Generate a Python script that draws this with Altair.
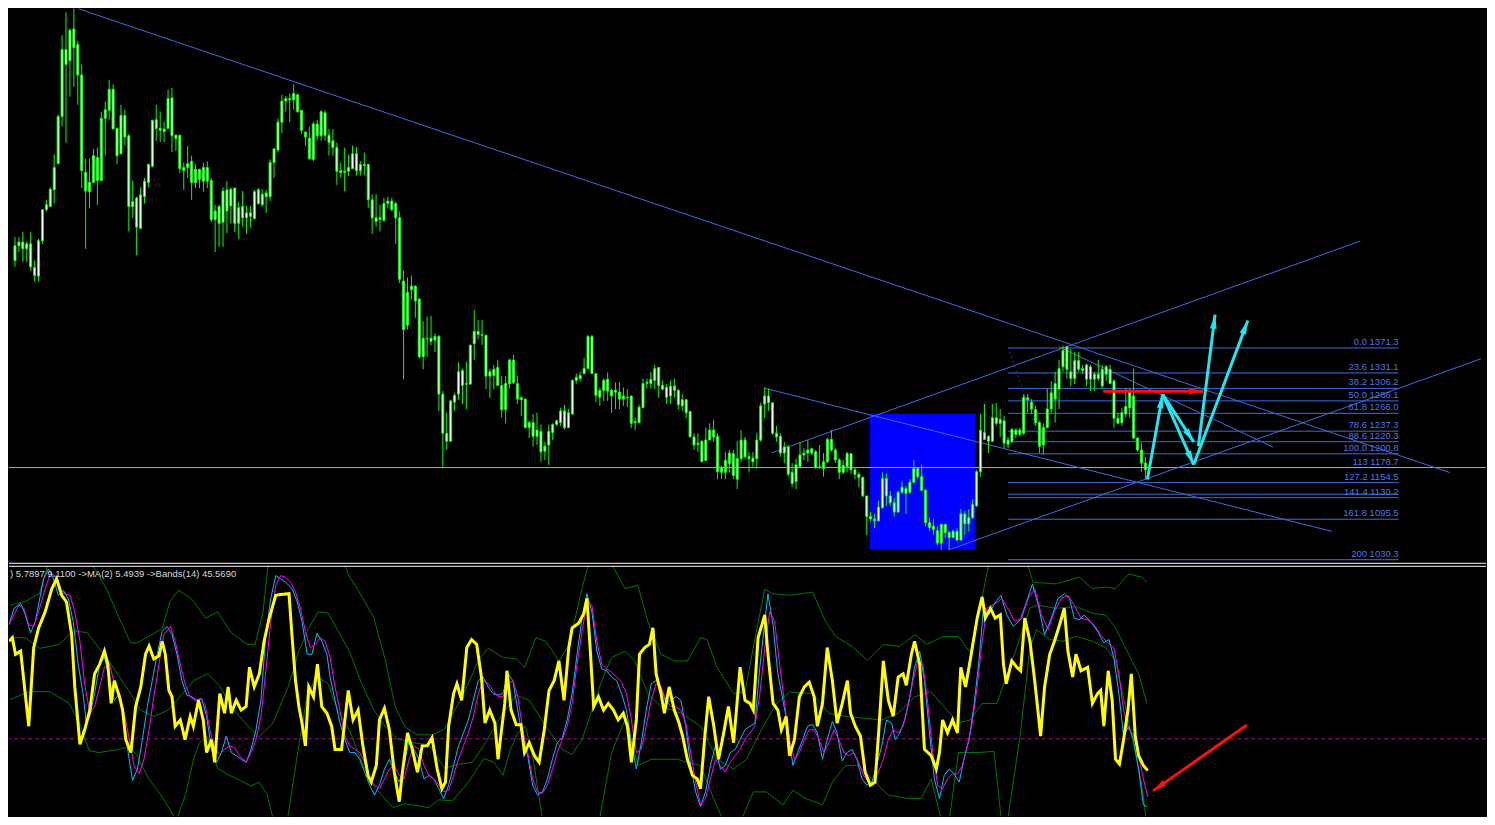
import math
import altair as alt
import pandas as pd

# ---------------- candle data (price) ----------------
body_top = [1536,1542,1542,1539,1539,1501,1544,1594,1602,1627,1662,1744,1852,1852,1883,1885,1860,1811,1654,1638,
1681,1678,1741,1755,1788,1788,1725,1746,1746,1713,1607,1613,1618,1640,1667,1738,1739,1725,1724,1773,
1774,1714,1714,1662,1668,1672,1659,1659,1662,1662,1641,1592,1599,1624,1626,1627,1629,1597,1599,1589,
1589,1623,1626,1619,1621,1670,1692,1735,1769,1773,1773,1781,1779,1754,1719,1709,1732,1732,1752,1750,
1714,1705,1694,1657,1656,1662,1684,1684,1667,1667,1667,1610,1581,1581,1604,1608,1608,1604,1581,1479,
1461,1471,1471,1450,1387,1387,1387,1390,1390,1297,1234,1286,1295,1333,1335,1314,1376,1398,1398,1393,
1392,1333,1337,1340,1311,1314,1352,1352,1314,1291,1289,1251,1251,1239,1237,1213,1237,1248,1254,1270,
1270,1267,1319,1324,1327,1338,1390,1390,1330,1303,1319,1321,1303,1303,1300,1294,1292,1294,1253,1276,
1314,1316,1321,1338,1340,1311,1308,1310,1310,1303,1288,1288,1269,1228,1218,1221,1223,1239,1239,1229,
1179,1190,1202,1201,1193,1223,1223,1196,1194,1223,1278,1294,1294,1283,1234,1229,1212,1212,1171,1183,
1199,1202,1207,1209,1204,1180,1188,1224,1224,1207,1191,1182,1201,1201,1175,1168,1163,1133,1100,1096,
1115,1161,1161,1133,1122,1139,1147,1145,1155,1177,1177,1164,1142,1090,1084,1077,1087,1087,1074,1076,
1076,1104,1104,1098,1119,1172,1239,1235,1229,1259,1259,1256,1254,1223,1240,1239,1239,1292,1291,1284,
1272,1251,1243,1273,1299,1314,1338,1367,1373,1333,1351,1351,1338,1344,1341,1329,1329,1337,1341,1337,
1318,1258,1267,1277,1303,1294,1226,1207,1186]
body_bot = [1512,1536,1531,1531,1502,1488,1487,1544,1594,1599,1626,1668,1744,1828,1834,1855,1811,1657,1624,1623,
1638,1641,1641,1741,1754,1724,1681,1684,1711,1599,1599,1566,1564,1615,1638,1664,1725,1722,1720,1725,
1713,1709,1660,1657,1662,1638,1638,1643,1640,1640,1578,1578,1572,1574,1592,1600,1572,1572,1581,1581,
1583,1580,1604,1602,1615,1615,1670,1690,1735,1769,1771,1771,1752,1722,1711,1676,1675,1713,1713,1714,
1702,1694,1656,1654,1654,1656,1660,1657,1657,1665,1610,1581,1575,1578,1577,1604,1594,1581,1482,1401,
1408,1465,1447,1357,1357,1386,1382,1384,1297,1234,1221,1221,1284,1297,1311,1313,1313,1378,1393,1392,
1326,1326,1327,1311,1272,1272,1314,1316,1289,1288,1243,1243,1229,1229,1204,1205,1215,1235,1248,1251,
1243,1243,1265,1319,1322,1330,1338,1330,1295,1292,1303,1302,1294,1300,1289,1289,1291,1250,1251,1251,
1275,1314,1314,1319,1311,1305,1292,1294,1303,1280,1278,1267,1228,1215,1216,1188,1190,1223,1228,1172,
1171,1171,1185,1166,1160,1193,1196,1193,1188,1193,1223,1281,1283,1234,1228,1202,1202,1168,1153,1156,
1180,1199,1202,1202,1179,1179,1177,1188,1207,1191,1171,1171,1180,1175,1168,1163,1133,1100,1096,1093,
1093,1114,1133,1122,1107,1107,1139,1137,1139,1155,1164,1142,1090,1082,1079,1057,1057,1074,1066,1066,
1062,1062,1088,1088,1098,1117,1172,1224,1221,1221,1250,1250,1218,1216,1221,1232,1232,1234,1288,1273,
1251,1213,1215,1243,1273,1289,1305,1341,1337,1322,1322,1337,1335,1321,1321,1321,1322,1310,1329,1314,
1258,1250,1251,1265,1275,1226,1207,1186,1175]
wick_hi = [1550,1550,1558,1542,1558,1512,1547,1594,1610,1630,1683,1747,1875,1912,1886,1918,1866,1828,1676,1676,
1692,1694,1752,1768,1803,1796,1727,1763,1755,1716,1641,1615,1630,1645,1668,1739,1763,1752,1736,1787,
1790,1716,1714,1670,1697,1681,1667,1660,1670,1672,1645,1602,1602,1630,1640,1630,1629,1607,1624,1600,
1600,1626,1629,1627,1626,1675,1692,1741,1779,1777,1781,1796,1781,1754,1720,1728,1736,1739,1754,1754,
1724,1724,1702,1670,1694,1683,1697,1695,1672,1686,1668,1619,1619,1602,1613,1615,1613,1607,1591,1496,
1485,1488,1472,1452,1414,1422,1423,1395,1392,1302,1267,1288,1299,1348,1338,1349,1376,1433,1416,1416,
1392,1338,1344,1352,1326,1326,1354,1360,1327,1294,1289,1254,1265,1267,1248,1220,1248,1250,1256,1275,
1280,1273,1321,1330,1333,1356,1392,1392,1330,1308,1322,1332,1306,1316,1316,1308,1305,1294,1259,1280,
1322,1322,1333,1344,1340,1319,1313,1319,1322,1305,1297,1289,1270,1234,1234,1223,1243,1250,1256,1234,
1182,1204,1207,1207,1221,1239,1228,1204,1204,1234,1283,1308,1306,1283,1246,1234,1220,1215,1186,1193,
1220,1210,1223,1210,1207,1215,1202,1226,1239,1210,1194,1191,1204,1202,1179,1171,1164,1133,1107,1104,
1125,1171,1169,1141,1130,1141,1156,1149,1160,1191,1179,1183,1144,1098,1096,1084,1088,1088,1077,1079,
1081,1112,1109,1112,1128,1175,1265,1281,1231,1281,1283,1273,1262,1228,1243,1242,1243,1297,1297,1289,
1278,1254,1250,1306,1318,1333,1352,1375,1375,1370,1365,1365,1344,1346,1344,1333,1352,1344,1344,1344,
1321,1267,1275,1306,1306,1338,1228,1218,1196]
wick_lo = [1502,1526,1510,1510,1496,1479,1479,1539,1591,1599,1604,1668,1728,1702,1776,1792,1763,1629,1531,1596,
1637,1602,1641,1681,1739,1724,1667,1684,1697,1559,1581,1521,1564,1604,1630,1662,1705,1703,1703,1725,
1687,1689,1653,1626,1645,1610,1629,1629,1623,1629,1574,1526,1534,1534,1556,1572,1558,1547,1567,1555,
1566,1578,1602,1599,1589,1608,1645,1687,1717,1752,1735,1755,1750,1716,1697,1675,1672,1705,1705,1705,
1681,1681,1634,1645,1624,1648,1660,1649,1649,1649,1597,1555,1567,1559,1575,1596,1591,1539,1476,1321,
1401,1449,1420,1354,1337,1357,1376,1365,1270,1180,1207,1220,1270,1288,1281,1273,1313,1352,1386,1376,
1305,1291,1305,1310,1259,1250,1306,1314,1281,1262,1242,1226,1212,1215,1188,1191,1183,1223,1246,1246,
1240,1242,1264,1314,1318,1329,1337,1329,1284,1278,1286,1286,1267,1273,1273,1278,1276,1242,1239,1250,
1275,1306,1306,1305,1291,1303,1281,1281,1291,1273,1270,1258,1228,1207,1204,1188,1190,1223,1220,1160,
1160,1160,1171,1160,1144,1188,1193,1171,1180,1177,1220,1258,1270,1231,1220,1196,1186,1164,1147,1144,
1179,1191,1188,1199,1177,1177,1164,1186,1204,1186,1160,1168,1171,1168,1160,1147,1131,1070,1092,1081,
1092,1112,1117,1117,1100,1106,1136,1104,1136,1153,1160,1141,1084,1076,1070,1054,1046,1065,1046,1065,
1060,1060,1070,1076,1096,1115,1164,1223,1202,1220,1246,1228,1210,1210,1218,1226,1229,1231,1267,1265,
1246,1202,1199,1242,1267,1251,1273,1333,1322,1310,1313,1333,1330,1310,1302,1302,1318,1306,1318,1313,
1242,1250,1246,1259,1259,1226,1204,1172,1160]

# ---------------- drawing objects on the price panel ----------------
fib_pct = ["0.0", "23.6", "38.2", "50.0", "61.8", "78.6", "88.6", "100.0", "113", "127.2", "138.2", "141.4", "161.8", "200"]
fib_price = [1371.3, 1331.1, 1306.2, 1286.1, 1266.0, 1237.3, 1220.3, 1200.8, 1178.7, 1154.5, 1135.8, 1130.2, 1095.5, 1030.3]
fib_label = ["0.0 1371.3", "23.6 1331.1", "38.2 1306.2", "50.0 1286.1", "61.8 1266.0", "78.6 1237.3",
             "88.6 1220.3", "100.0 1200.8", "113 1178.7", "127.2 1154.5", "", "141.4 1130.2",
             "161.8 1095.5", "200 1030.3"]
fib_from_bar = 253
fib_to_bar = 352.5

hline_price = [1178.7]

# trend lines: (bar0, price0, bar1, price1)
trend_b0 = [16, 191, 266, 192.75, 237.75]
trend_p0 = [1918, 1306.5, 1372.9, 1202.3, 1045.8]
trend_b1 = [365.5, 335.5, 320.5, 342.75, 373.5]
trend_p1 = [1170.7, 1075.9, 1211.7, 1543.5, 1353.9]
dotted_b = [253, 262.25]
dotted_p = [1372.9, 1199.1]

box_bars = [217.75, 244.75]
box_prices = [1047.4, 1265.5]

# arrows on price panel
arr_b0 = [288.5, 292.4, 292.4, 301.5, 300.3, 277.25]
arr_p0 = [1159.6, 1296.6, 1296.6, 1213.0, 1183.3, 1301.8]
arr_b1 = [292.4, 300.3, 300.3, 305.75, 314.1, 302.7]
arr_p1 = [1296.6, 1220.0, 1183.3, 1425.0, 1415.6, 1301.8]
arr_col = ["#22E6F2", "#22E6F2", "#22E6F2", "#22E6F2", "#22E6F2", "#FF1010"]

# ---------------- oscillator panel ----------------
osc_main = [(-0.25,24.8),(0.6,25.7),(1.4,21.5),(2.7,22.3),(3.5,14.8),(4.75,3.2),(6,23.2),(7.25,28.2),(8.9,32.3),(10.6,38.2),
(11.8,40.7),(13.1,36.5),(14.3,34.8),(15.6,26.5),(16.4,13.2),(17.7,-1.4),(18.9,2.3),(20.2,7.3),(21.4,16.5),(22.7,19),
(23.9,22.3),(24.75,19),(25.6,9),(26.4,14.8),(27.7,10.7),(28.5,7.3),(29.3,-0.2),(30.6,-3.5),(31.8,8.2),(33.1,13.2),
(34.3,21.5),(35.2,23.6),(36.4,20.3),(37.7,21.1),(38.5,24.8),(39.3,21.5),(40.2,12.3),(41,10.7),(41.8,3.2),(43.1,4.8),
(44.3,-0.2),(45.6,5.7),(46.4,3.2),(47.7,9.8),(48.9,4.8),(49.75,-3.5),(51,-0.2),(51.8,-6),(53.1,11.5),(54.3,6.5),
(55.2,13.2),(56,6.5),(57.25,9.8),(58.5,7.3),(59.75,8.2),(60.6,18.2),(61.8,13.2),(63.1,16.5),(64.3,24.8),(65.6,30.7),
(67.25,36.5),(68.5,36.7),(70.6,36.9),(71.4,25.7),(72.25,14.8),(73.1,8.2),(73.9,4),(74.75,-1.8),(75.6,13.2),(76.8,10.7),
(77.8,19),(78.9,8.2),(80.2,6.5),(81.4,3.2),(82.25,-2.7),(83.9,-2.7),(84.75,4.8),(85.6,12.3),(86.8,4.8),(88.1,7.3),
(89.3,-1.8),(90.6,-9.3),(91.4,-11),(92.7,-6.8),(93.5,4.8),(94.75,7.75),(96,2.3),(97.25,-8.5),(98.5,-16),(99.3,-8.5),
(100.6,1.5),(101.8,-2.7),(103.1,-8.5),(104.3,-1.8),(105.6,-1.8),(106.8,0.25),(108.1,-7.7),(109.3,-12.7),(110.2,-11),(111,3.2),
(112.25,11.5),(113.1,14),(114.3,9.8),(115.6,23.2),(116.8,25.25),(118.1,24),(119.3,15.7),(120.2,4),(121.4,7.3),(122.7,4),
(123.5,-5.2),(124.3,1.5),(125.2,9),(125.75,17.3),(126.8,7.3),(128.1,3.6),(129.3,3.6),(130.2,-3.5),(131.4,-1),(132.7,-4.3),
(133.9,-6),(135.2,2.3),(136.4,12.3),(137.7,14.8),(138.9,19.8),(140.2,9.8),(141.4,23.2),(142.25,28.2),(143.9,29.4),(145.2,31.9),
(146,35.7),(146.8,23.2),(147.7,8.2),(148.9,10.7),(150.2,7.3),(151.4,9),(152.7,7.3),(153.9,4.8),(155.2,6.5),(156.25,3.2),
(157.25,-6),(158.5,4.8),(159.3,21.5),(160.6,23.2),(161.8,24),(162.7,28.2),(163.5,16.5),(164.75,11.5),(165.6,6.5),(166.8,13.2),
(168.1,7.3),(169.3,4),(170.2,0.7),(171.4,-5.2),(172.7,-9.3),(173.9,-10.2),(174.75,-12.7),(175.75,-0.2),(176.8,10.7),(178.1,3.2),
(179.3,-5.2),(180.6,1.5),(181.8,8.2),(183.1,-1),(183.9,8.2),(184.75,18.2),(186,9.8),(187.25,9),(188.1,7.3),(189.3,25.7),
(191,31.5),(191.8,21.5),(193.1,9),(194.3,7.3),(195.2,2.3),(196.4,5.7),(197.25,-4.3),(198.5,-0.2),(199.75,10.7),(201,13.2),
(202.25,14.4),(203.5,10.7),(204.3,3.2),(205.6,9),(206.8,23.2),(208.1,14.8),(209.3,4),(210.6,9),(211.9,14.8),(212.7,6.5),
(213.9,3.2),(215.2,0.7),(216.4,-8.5),(217.7,-11.8),(218.9,-11),(219.75,0.7),(221,19.8),(222.25,9.8),(223.5,5.7),(224.75,15.7),
(226,16.5),(226.8,13.6),(228.1,21.5),(228.9,24.8),(230.2,19),(231.4,-2.7),(233.1,-4.3),(234.4,-7.7),(235.2,-3.5),(236,4.8),
(237.25,1.5),(238.5,4.8),(239.75,1.5),(240.6,18.2),(241.8,13.2),(243.1,20.7),(244.75,30.7),(246,36.1),(246.8,30.7),(248.1,33.2),
(249.3,30.7),(250.6,31.5),(251.4,19),(252.1,14),(253.5,19.8),(254.75,18.2),(255.75,17.3),(256.8,30.7),(258.1,24.8),(259.3,14.8),
(260.8,0.7),(261.8,13.2),(263.1,21.5),(264.3,24.8),(265.6,29),(266.8,33.2),(267.7,22.3),(268.9,15.7),(269.75,21.5),(271,17.3),
(272.7,18.2),(273.9,9),(275.2,11.5),(276,12.3),(276.8,3.2),(277.9,17.3),(278.9,9.8),(279.75,-5.2),(280.75,-6.4),(281.8,-0.2),
(282.9,7.3),(283.75,16.5),(284.75,0.7),(285.6,-4.3),(286.8,-6.8),(287.9,-8.1)]

osc_signal = [(-0.25,29),(1,33.2),(2.7,34.4),(3.9,31.5),(5.2,26.9),(6.4,29.8),(7.7,36.5),(8.5,40.7),(9.75,43.2),(11,40.7),
(12.25,36.5),(13.5,37.75),(14.75,35.7),(16,29.8),(17.25,19),(18.5,11.5),(19.3,4),(20.2,5.7),(21.4,11.5),(22.7,19),
(23.9,20.7),(25.2,14.8),(26.4,9.8),(27.7,11.5),(28.9,4.8),(29.9,-3.5),(31,-10.6),(32.25,-7.7),(33.5,-0.2),(34.75,8.2),
(36,14.8),(37.25,21.5),(38.5,27.3),(39.75,28.6),(41,26.5),(42.25,21.5),(43.5,14.8),(44.75,11.1),(46,10.7),(47.25,9.8),
(48.5,10.25),(49.75,5.7),(51,-2.7),(52.25,-6),(53.5,-3.5),(54.75,0.7),(56,-3.5),(57.25,-4.3),(58.5,-5.2),(59.75,-6),
(61,-2.7),(62.25,2.3),(63.5,9.8),(64.75,26.5),(66,35.7),(67.25,41.5),(68.5,40.7),(69.75,39.8),(71.4,38.2),(72.7,34.8),
(73.9,29.8),(75.2,21.5),(76.4,21.5),(77.7,26.9),(78.9,24.8),(80.2,21.5),(81,15.7),(82.25,9.8),(83.5,4),(84.75,-0.2),
(86,-3.5),(87.25,-3.5),(88.5,-5.2),(89.75,-8.5),(91,-11.8),(92.25,-14.3),(93.5,-11.8),(94.75,-7.7),(96,-5.2),(97.25,-8.5),
(98.5,-11),(99.75,-6.8),(101,-0.2),(102.25,-2.7),(103.5,-5.2),(104.75,-10.2),(106,-9.3),(107.25,-10.2),(108.5,-12.7),(109.75,-15.2),
(111,-11.8),(112.25,-6.8),(113.5,-1.8),(114.75,1.5),(116,4.8),(117.25,9.8),(118.5,14.8),(119.75,15.7),(121,13.2),(122.25,11.5),
(123.5,11.1),(124.75,11.5),(126,16.5),(127.25,14.8),(128.5,7.3),(129.75,-0.2),(131,-4.3),(132.25,-11.8),(133.5,-14.3),(134.75,-13.5),
(136,-10.2),(137.25,-5.2),(138.5,-1),(139.75,0.25),(141,4.8),(142.25,11.5),(143.5,21.5),(144.75,30.7),(146,36.9),(147.25,32.3),
(148.5,22.3),(149.75,17.75),(151,17.3),(152.25,15.7),(153.5,14.8),(154.75,11.5),(156,7.3),(157.25,-1),(158.5,-7.7),(159.75,-1),
(161,7.3),(162.25,14),(163.5,14.8),(164.75,13.2),(166,9),(167.25,9.8),(168.5,10.7),(169.75,9.8),(171,3.2),(172.25,-6.8),
(173.5,-13.5),(174.75,-17.25),(176,-13.5),(177.25,-6.8),(178.5,-1.8),(179.75,-7.7),(181,-6.8),(182.25,-3.5),(183.5,-2.7),(184.75,-0.2),
(186,2.3),(187.25,3.2),(188.5,4),(189.75,18.2),(191,29.8),(191.8,36.9),(193.1,29),(194.3,16.5),(195.6,9.8),(196.8,3.2),
(198.1,-6.8),(199.3,-3.5),(200.6,-0.2),(201.8,3.2),(203.1,3.6),(204.3,1.5),(205.6,-5.2),(206.8,-0.2),(208.1,4.4),(209.3,1.5),
(210.6,-5.6),(211.8,-3.5),(213.1,-2.7),(214.3,-5.2),(215.6,-10.2),(216.8,-11.8),(218.1,-11),(219.3,-6.8),(220.6,-1.8),(221.8,4.8),
(223.1,4),(224,-0.2),(225.2,1.5),(226.4,4.8),(227.7,10.7),(228.9,18.2),(230.2,22.3),(231.4,14.8),(232.7,1.5),(233.9,-10.2),
(235.2,-15.2),(236.4,-9.3),(237.7,-7.7),(238.9,-8.9),(240.2,-11),(241.4,-5.2),(242.7,-0.2),(243.9,8.2),(245.2,19.8),(246.4,34),
(247.7,31.5),(248.9,34),(249.75,35.25),(250.75,36.5),(252.25,31.5),(253.9,28.6),(255.6,30.25),(257.25,34.8),(258.75,39.4),(260.2,34),
(261.8,26.5),(263.5,30.7),(265.2,35.7),(266.8,36.9),(268.1,35.7),(269.3,30.7),(270.6,30.25),(271.8,31.5),(273.5,29.8),(275.2,27.3),
(276.8,24.4),(278.1,25.25),(279.3,20.7),(280.6,11.5),(281.8,0.7),(283.1,3.2),(284.3,-0.2),(285.6,-7.7),(286.8,-16.8),(287.7,-17.25)]

osc_ma = [(-0.25,29),(2.25,34),(3.5,33.2),(4.75,29),(6,28.6),(7.25,32.3),(8.9,38.2),(10.2,41.9),(11.4,41.5),(12.7,37.3),
(13.9,36.9),(15.2,36.5),(16.4,32.3),(17.7,24.8),(18.9,14),(20.2,6.5),(21.4,8.2),(22.7,13.2),(23.9,18.2),(25.2,19),
(26.4,14),(27.7,11.5),(28.9,6.5),(30.2,-0.2),(31.4,-6.8),(32.7,-8.9),(33.9,-5.2),(35.2,2.3),(36.4,10.7),(37.7,19),
(38.9,26.5),(40.6,28.6),(41.8,24.8),(43.1,19),(44.3,14),(45.6,10.7),(46.8,9.8),(48.1,10.25),(49.3,9),(50.6,2.3),
(51.8,-2.7),(53.1,-3.9),(54.3,-2.7),(55.6,-1.8),(56.8,-2.25),(58.1,-4.3),(59.75,-6),(61,-3.5),(62.25,-0.2),(63.5,5.7),
(64.75,17.3),(66,29.8),(67.25,39),(68.5,41.5),(69.75,41.1),(71,39.8),(72.25,37.3),(73.5,33.2),(74.75,27.3),(76,23.2),
(77.25,24),(78.5,25.7),(79.75,24.8),(81,20.7),(82.25,13.2),(83.5,7.3),(84.75,0.7),(86,-1.8),(87.25,-2.7),(88.5,-3.5),
(89.75,-6),(91,-10.2),(92.25,-11.8),(93.5,-12.7),(94.75,-10.2),(96,-7.7),(97.25,-6.8),(98.5,-9.3),(99.75,-10.2),(101,-5.2),
(102.25,-1.8),(103.5,-2.7),(104.75,-6.8),(106,-9.3),(107.25,-10.2),(108.5,-11.8),(109.75,-13.5),(111,-13.1),(112.25,-9.3),(113.5,-5.2),
(114.75,-1.8),(116,1.5),(117.25,5.7),(118.5,11.5),(119.75,14.8),(121,14),(122.25,12.3),(123.5,10.7),(124.75,10.7),(126,14),
(127.25,14.8),(128.5,10.7),(129.75,2.3),(131,-3.5),(132.25,-10.2),(133.5,-13.5),(134.75,-13.9),(136,-11.8),(137.25,-7.7),(138.5,-3.5),
(139.75,-0.2),(141,3.2),(142.25,9),(143.5,19),(144.75,27.3),(146,34.8),(147.25,34),(148.5,24.8),(149.75,19),(151,17.75),
(152.25,16.9),(153.5,15.7),(154.75,14.4),(156,11.5),(157.25,4.8),(158.5,-3.5),(159.75,-2.7),(161,3.2),(162.25,9.8),(163.5,14),
(164.75,13.2),(166,9.8),(167.25,8.2),(168.5,8.2),(169.75,7.3),(171,4),(172.25,-3.5),(173.5,-11),(174.75,-16.8),(176,-15.2),
(177.25,-10.2),(178.5,-5.2),(179.75,-6.8),(181,-8.5),(182.25,-6),(183.5,-4.3),(184.75,-2.7),(186,-0.2),(187.25,1.5),(188.5,3.2),
(189.75,11.5),(191,23.2),(192.25,32.3),(193.5,29.8),(194.75,19),(196,9),(197.25,-0.2),(198.5,-5.2),(199.75,-3.5),(201,-0.2),
(202.25,2.3),(203.5,2.3),(204.75,-0.2),(206,-3.5),(207.25,-1),(208.5,2.3),(209.75,-0.2),(211,-3.5),(212.25,-4.3),(213.5,-3.5),
(214.75,-6),(216,-9.3),(217.25,-11),(218.5,-11),(219.75,-8.5),(221,-5.2),(222.25,-0.2),(223.5,2.3),(224.75,1.5),(226,3.2),
(227.25,8.2),(228.5,14.8),(229.75,19.8),(231,19),(232.25,9),(233.5,-3.5),(234.75,-11.8),(236,-12.7),(237.25,-10.2),(238.5,-8.9),
(239.75,-8.9),(241,-6.8),(242.25,-1.8),(243.5,4),(244.75,13.2),(246,24.8),(247.25,33.2),(248.5,34),(249.75,34.6),(251,35.7),
(252.7,32.75),(254.3,29.8),(256,30.7),(257.7,35.7),(259.3,38.2),(261,31.5),(262.7,27.75),(264.3,32.3),(266,35.7),(267.7,36.5),
(269.3,34),(271,30.7),(272.7,30.25),(274.3,29),(276,26.5),(277.7,24.4),(279.3,23.2),(280.6,16.5),(281.8,7.3),(283.1,2.3),
(284.3,1.1),(285.6,-4.3),(286.8,-10.2),(287.9,-14.75)]

band_upper = [(0,34),(4,35),(7.5,37),(9.5,44),(14,44.5),(19,44.5),(21,44),(24.5,38),(27.5,31),(30.5,24.5),(32,24.3),(35,26),
(38.5,28),(40.5,35),(42.7,37.8),(46,35.5),(49.5,30.7),(52.5,32.3),(56,27),(60,24),(62,24),(64,32),(65.5,46),(84,46),
(86,41),(88,38),(92,31),(95,20),(97.5,8),(100,3),(103,1),(107,1),(110,2.5),(113,8),(116,14),(118.5,20),(121,23),
(124.75,20.7),(128.1,20.3),(130.2,18.2),(133.1,25.7),(135.6,24.8),(138.9,19.8),(141.5,24),(144.75,38.2),(146.8,46),
(151.4,46),(155.6,38.2),(158.9,39),(161.4,29.8),(164.75,21.5),(168.1,19.8),(171.4,19.8),(174.75,25.7),(176.4,25.25),
(178.9,18.2),(183.1,11.5),(186,12),(189,28),(191,38),(193.1,36.9),(197.25,36.5),(203.1,37.3),(206.4,29.8),(209,26),
(213,23.5),(217,20),(221,24),(225,23.5),(229,26.5),(232,24),(236,26),(240,26),(243,22),(246,36),(248,46),(257,46),
(258.9,39.8),(264.75,39.4),(270.6,41.1),(273.9,38.2),(277.25,38.6),(279.75,38.2),(283.1,41.9),(286.4,41.1),(287.7,39.8)]

band_mid = [(0,25.7),(4,25.7),(7.5,23),(12.5,24),(16,27.5),(19.5,27),(25,19.8),(30,12.3),(33,7.3),(36.5,5.7),(40,7.3),
(43,10.7),(46.5,14.8),(50,16.5),(53,13.5),(56.5,7.5),(60,3.5),(63,0.5),(66.5,4),(70.5,13.5),(73,22),(75.5,28),(78,32.3),
(80.5,32),(83,27.5),(86,22),(89,14),(92,7.5),(95,3),(98,0),(102,-1),(106,-1.5),(110,-7.5),(113.5,-6.5),(117,-6),
(120,-1.5),(124.75,6.5),(128.1,11.1),(131.4,9.8),(135.6,3.2),(139.75,-2.7),(142.25,-4),(144.75,-0.2),(147.25,7.3),
(149.75,14.8),(152.25,20.7),(155.6,22.3),(158.1,19.8),(161.4,11.5),(164.75,8.2),(169.75,6.5),(174.75,3.2),(178.9,-5.2),
(183.1,-7.7),(186.4,-5.2),(190.6,3.2),(194,9),(197.25,11.9),(203.1,11.5),(207.25,6.5),(211.4,5.7),(216.4,5.2),
(220.6,4.8),(224.75,6.5),(229,10.7),(233,12),(236.5,8),(240,4),(243,4.8),(246,9),(249.75,9),(254.75,23.2),(258.1,33.2),
(259.75,34),(264.75,33.2),(269.75,33.6),(274,31.9),(277.25,31.5),(279.75,28.2),(283.1,21.5),(285.6,16.5),(287.7,9)]

band_lower = [(0,10),(5,12),(10,12),(15,9),(18,3),(20,-3),(22.5,-3.5),(27.5,-2.7),(30,-2),(32,-4),(35,-10),(38,-14),
(40.5,-18),(42,-21),(44.5,-14),(46.5,-5),(48,-1),(50,0.5),(52.5,-7.5),(55,-9),(58,-10.5),(61,-12),(63,-11),(65,-14),
(67,-22),(70,-22),(72.5,-5.5),(75,10),(77.5,16),(80.5,14),(83,7),(86,2),(89,-6),(92,-12),(95.5,-16),(97,-17.5),
(100,-16.5),(103,-17),(106,-17.5),(108.5,-15.5),(112,-15.8),(116,-11),(120,-5),(122.5,-6),(124.75,-9.3),(126.5,-3),
(128.5,1.5),(130.5,3.2),(132.5,-6),(135,-22),(148.9,-22),(152.25,-3.5),(155.6,4.8),(159,-6.8),(162.25,-5.2),
(168.9,-5.2),(171.4,-6),(174.75,-6.8),(178,-15),(181,-22),(184.5,-22),(188.1,-13.5),(191.4,-13.5),(195.6,-16.8),
(198.1,-13.1),(201.4,-15.2),(205.6,-16.8),(208.1,-11),(211.4,-6.8),(214.75,-6.8),(218.1,-10.2),(222.25,-14.3),
(227.25,-15.2),(230.6,-15.2),(233.1,-10.2),(236,-22),(237.5,-22),(240,-3.5),(245,-3.5),(249,-3.2),(251,-22),
(252.25,-22),(255.6,0.7),(258.1,23.2),(259.75,27.75),(263.1,25.25),(266.4,24.8),(269.75,26.1),(273.9,24.8),
(277.25,23.2),(279.75,19.8),(282.25,8.2),(284.75,-3.5),(286.4,-11.8),(287.7,-22)]

osc_zero = [0.0]
osc_info = ") 5.7897 9.1100  ->MA(2) 5.4939  ->Bands(14) 45.5690"
osc_arrow = (313.0, 3.5, 289.25, -13.25)

# ---------------- layout ----------------
W, H1, H2 = 1479, 556, 251
XDOM = [-0.25, 373.5]
PDOM = [1023.7, 1918.0]
ODOM = [-19.75, 44.0]
FONT = "Liberation Sans"

xs = alt.Scale(domain=XDOM, nice=False, zero=False)
ps = alt.Scale(domain=PDOM, nice=False, zero=False)
os_ = alt.Scale(domain=ODOM, nice=False, zero=False)

def X(f):
    return alt.X(f, type="quantitative", scale=xs, axis=None)

def PY(f):
    return alt.Y(f, type="quantitative", scale=ps, axis=None)

def OY(f):
    return alt.Y(f, type="quantitative", scale=os_, axis=None)

px_bar = W / (XDOM[1] - XDOM[0])
px_price = H1 / (PDOM[1] - PDOM[0])
px_osc = H2 / (ODOM[1] - ODOM[0])

def head_angle(b0, v0, b1, v1, py):
    sdx = (b1 - b0) * px_bar
    sdy = -(v1 - v0) * py
    return math.degrees(math.atan2(sdx, -sdy)) % 360

HEAD = "M0,0L0.55,2.3L-0.55,2.3Z"

# ---- price panel layers
candles = pd.DataFrame({"bar": list(range(len(body_top))), "top": body_top, "bot": body_bot,
                        "hi": wick_hi, "lo": wick_lo})
box = pd.DataFrame({"b0": [box_bars[0]], "b1": [box_bars[1]], "p0": [box_prices[0]], "p1": [box_prices[1]]})
fib = pd.DataFrame({"pct": fib_pct, "price": fib_price, "label": fib_label,
                    "b0": fib_from_bar, "b1": fib_to_bar})
hline = pd.DataFrame({"price": hline_price})
trend = pd.DataFrame({"b0": trend_b0, "p0": trend_p0, "b1": trend_b1, "p1": trend_p1})
dotted = pd.DataFrame({"b0": [dotted_b[0]], "p0": [dotted_p[0]], "b1": [dotted_b[1]], "p1": [dotted_p[1]]})
arrows = pd.DataFrame({"b0": arr_b0, "p0": arr_p0, "b1": arr_b1, "p1": arr_p1, "col": arr_col})
arrows["ang"] = [head_angle(a, b, c, d, px_price) for a, b, c, d in zip(arr_b0, arr_p0, arr_b1, arr_p1)]

box_l = alt.Chart(box).mark_rect(color="#0000FF", clip=True).encode(
    x=X("b0"), x2="b1", y=PY("p0"), y2="p1")
fib_l = alt.Chart(fib).mark_rule(color="#4169E1", strokeWidth=1, clip=True).encode(
    x=X("b0"), x2="b1", y=PY("price"))
trend_l = alt.Chart(trend).mark_rule(color="#4169E1", strokeWidth=1, clip=True).encode(
    x=X("b0"), x2="b1", y=PY("p0"), y2="p1")
dotted_l = alt.Chart(dotted).mark_rule(color="#2238D0", strokeWidth=1, strokeDash=[2, 3], clip=True).encode(
    x=X("b0"), x2="b1", y=PY("p0"), y2="p1")
wick_l = alt.Chart(candles).mark_rule(color="#00FF00", strokeWidth=1, clip=True).encode(
    x=X("bar"), y=PY("lo"), y2="hi")
body_l = alt.Chart(candles).mark_bar(size=2, fill="#FFFFFF", stroke="#00FF00", strokeWidth=1, clip=True).encode(
    x=X("bar"), y=PY("top"), y2="bot")
hline_l = alt.Chart(hline).mark_rule(color="#A8A8A8", strokeWidth=1, clip=True).encode(y=PY("price"))
fib_txt = alt.Chart(fib).mark_text(align="right", baseline="bottom", dy=-1, fontSize=9.5, font=FONT,
                                   color="#4F74E8", clip=True).encode(
    x=X("b1"), y=PY("price"), text="label:N")
arr_line = alt.Chart(arrows).mark_rule(strokeWidth=3, clip=True).encode(
    x=X("b0"), x2="b1", y=PY("p0"), y2="p1", color=alt.Color("col:N", scale=None))
arr_head = alt.Chart(arrows).mark_point(shape=HEAD, filled=True, size=150, opacity=1, strokeWidth=0, clip=True).encode(
    x=X("b1"), y=PY("p1"), angle=alt.Angle("ang:Q", scale=None), color=alt.Color("col:N", scale=None))
sep_top = alt.Chart(pd.DataFrame({"k": [0]})).mark_rule(color="#FFFFFF", strokeWidth=1).encode(
    y=alt.value(H1 - 0.5))

top = alt.layer(box_l, fib_l, hline_l, trend_l, dotted_l, wick_l, body_l, fib_txt, arr_line, arr_head, sep_top
                ).properties(width=W, height=H1)

# ---- oscillator panel layers
def series(points, name):
    return pd.DataFrame({"bar": [p[0] for p in points], "v": [p[1] for p in points], "s": name})

main_df = series(osc_main, "main")
sig_df = series(osc_signal, "signal")
ma_df = series(osc_ma, "ma")
bands_df = pd.concat([series(band_upper, "upper"), series(band_mid, "mid"), series(band_lower, "lower")])

zero_l = alt.Chart(pd.DataFrame({"v": osc_zero})).mark_rule(color="#A010A0", strokeWidth=1, strokeDash=[4, 3]).encode(
    y=OY("v"))
bands_l = alt.Chart(bands_df).mark_line(color="#007800", strokeWidth=1, clip=True).encode(
    x=X("bar"), y=OY("v"), detail="s:N")
sig_l = alt.Chart(sig_df).mark_line(color="#00BFFF", strokeWidth=1, clip=True).encode(x=X("bar"), y=OY("v"))
ma_l = alt.Chart(ma_df).mark_line(color="#FF00FF", strokeWidth=1, clip=True).encode(x=X("bar"), y=OY("v"))
main_l = alt.Chart(main_df).mark_line(color="#FFFF00", strokeWidth=3, clip=True, strokeJoin="miter").encode(
    x=X("bar"), y=OY("v"))
info_l = alt.Chart(pd.DataFrame({"t": [osc_info]})).mark_text(
    align="left", baseline="middle", fontSize=9.5, font=FONT, color="#D8D8D8").encode(
    x=alt.value(1), y=alt.value(8), text="t:N")
oa = pd.DataFrame({"b0": [osc_arrow[0]], "v0": [osc_arrow[1]], "b1": [osc_arrow[2]], "v1": [osc_arrow[3]]})
oa["ang"] = [head_angle(osc_arrow[0], osc_arrow[1], osc_arrow[2], osc_arrow[3], px_osc)]
oarr_line = alt.Chart(oa).mark_rule(strokeWidth=3, color="#FF1010", clip=True).encode(
    x=X("b0"), x2="b1", y=OY("v0"), y2="v1")
oarr_head = alt.Chart(oa).mark_point(shape=HEAD, filled=True, size=150, opacity=1, strokeWidth=0,
                                     color="#FF1010", clip=True).encode(
    x=X("b1"), y=OY("v1"), angle=alt.Angle("ang:Q", scale=None))
sep_bot = alt.Chart(pd.DataFrame({"k": [0]})).mark_rule(color="#FFFFFF", strokeWidth=1).encode(y=alt.value(0.5))

bottom = alt.layer(zero_l, bands_l, sig_l, ma_l, main_l, info_l, oarr_line, oarr_head, sep_bot
                   ).properties(width=W, height=H2)

chart = alt.vconcat(top, bottom, spacing=2).properties(padding=0, background="#000000").configure_view(
    stroke=None).configure_concat(spacing=2)

chart.save("out.html", embed_options={"renderer": "svg", "actions": False})
